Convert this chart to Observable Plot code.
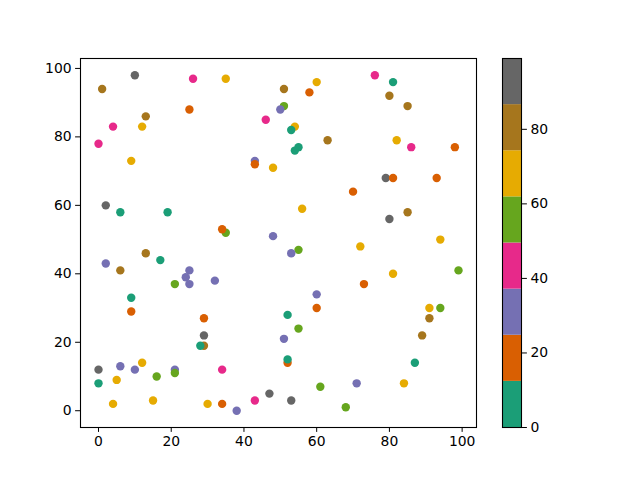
<!DOCTYPE html>
<html><head><meta charset="utf-8">
<script src="https://cdn.jsdelivr.net/npm/d3@7"></script>
<script src="https://cdn.jsdelivr.net/npm/@observablehq/plot@0.6"></script>
<style>
body{margin:0;background:#fff}
#wrap{position:relative;width:640px;height:480px;background:#fff}
#wrap svg{position:absolute;top:0}
</style>
</head><body><div id="wrap"></div>
<script>
// Scatter data (x, y, colour value)
const xValues = [1,10,26,35,25,13,4,12,0,46,43,43,48,9,51,51,50,60,58,76,81,80,85,54,53,63,55,54,82,86,98,79,81,93,70,56,85,80,48,55,53,72,94,99,81,73,60,2,6,19,35,34,13,17,2,6,25,24,25,21,32,9,9,29,29,29,28,0,0,6,5,10,12,16,21,21,4,15,34,30,34,38,43,47,51,60,52,55,52,52,53,61,71,68,84,87,89,91,91,94];
const yValues = [94,98,97,97,88,86,83,83,78,85,73,72,71,73,94,89,88,96,93,98,96,92,89,83,82,79,77,76,79,77,77,68,68,68,64,59,58,56,51,47,46,48,50,41,40,37,34,60,58,58,52,53,46,44,43,41,41,39,37,37,38,33,29,27,22,19,19,12,8,13,9,12,14,10,12,11,2,3,12,2,2,0,3,5,21,30,28,24,14,15,3,7,8,1,8,14,22,27,30,30];
const cValues = [80,93,43,68,18,80,43,68,43,43,31,18,68,68,80,56,31,68,18,43,6,80,80,68,6,80,6,6,68,43,18,93,18,18,18,68,80,93,31,56,31,68,68,56,68,18,31,93,6,6,56,18,80,6,31,80,31,31,31,56,31,6,18,18,93,80,6,93,6,31,68,31,68,56,31,56,68,68,43,68,18,31,43,93,31,18,6,56,18,6,93,56,31,56,68,6,80,80,68,56];

const xTicks = [0, 20, 40, 60, 80, 100];
const yTicks = [0, 20, 40, 60, 80, 100];
const cbTicks = [0, 20, 40, 60, 80];
const cMin = 0, cMax = 99;
const dark2 = ["#1b9e77","#d95f02","#7570b3","#e7298a","#66a61e","#e6ab02","#a6761d","#666666"];
const colorThresholds = [12.375, 24.75, 37.125, 49.5, 61.875, 74.25, 86.625];

const points = xValues.map((x, i) => ({x, y: yValues[i], c: cValues[i]}));
const edges = [cMin, ...colorThresholds, cMax];
const bands = edges.slice(0, -1).map((lo, i) => ({lo, hi: edges[i + 1], mid: (lo + edges[i + 1]) / 2}));

const colorScale = {type: "threshold", domain: colorThresholds, range: dark2};
const style = {fontFamily: "DejaVu Sans", fontSize: "13.9px", color: "black", background: "transparent"};

const main = Plot.plot({
  width: 500, height: 480,
  marginLeft: 80, marginRight: 24, marginTop: 58, marginBottom: 53,
  style,
  x: {domain: [-4.95, 103.95], ticks: xTicks, tickSize: 4.9, tickPadding: 4, label: null},
  y: {domain: [-4.9, 102.9], ticks: yTicks, tickSize: 4.9, tickPadding: 4, label: null},
  color: colorScale,
  marks: [
    Plot.dot(points, {x: "x", y: "y", fill: "c", r: 4.2}),
    Plot.frame({stroke: "black", strokeWidth: 1.1})
  ]
});
main.style.left = "0px";

const cbar = Plot.plot({
  width: 70, height: 480,
  marginLeft: 7, marginRight: 44, marginTop: 58, marginBottom: 53,
  style,
  x: {domain: [0, 1], axis: null},
  y: {domain: [cMin, cMax], ticks: cbTicks, axis: "right", tickSize: 4.9, tickPadding: 4, label: null},
  color: colorScale,
  marks: [
    Plot.rect(bands, {x1: 0, x2: 1, y1: "lo", y2: "hi", fill: "mid", inset: 0}),
    Plot.frame({stroke: "black", strokeWidth: 1.1})
  ]
});
cbar.style.left = "495px";

const wrap = document.getElementById("wrap");
wrap.appendChild(main);
wrap.appendChild(cbar);
</script>
</body></html>
